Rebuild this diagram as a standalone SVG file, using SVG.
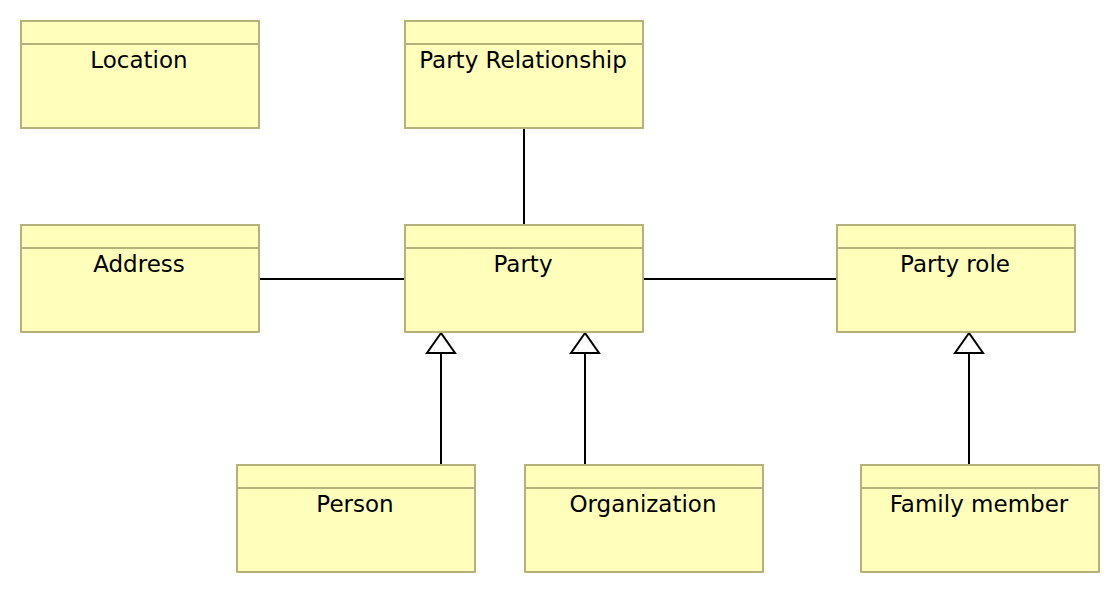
<svg xmlns="http://www.w3.org/2000/svg" width="1120" height="594" viewBox="0 0 1120 594">
<style>
.box{fill:#ffffbb;stroke:#b5b17a;stroke-width:2}
.hdr{stroke:#b5b17a;stroke-width:2}
.lbl{font-family:"DejaVu Sans",sans-serif;font-size:23px;fill:#000;text-anchor:middle}
.conn{stroke:#000;stroke-width:2;fill:none}
.tri{fill:#fff;stroke:#000;stroke-width:2}
</style>
<rect width="1120" height="594" fill="#fff"/>
<g id="connectors">
<line class="conn" x1="524" y1="128" x2="524" y2="225"/>
<line class="conn" x1="259" y1="279" x2="405" y2="279"/>
<line class="conn" x1="643" y1="279" x2="837" y2="279"/>
<line class="conn" x1="441" y1="465" x2="441" y2="353"/>
<polygon class="tri" points="441,333 427,353 455,353"/>
<line class="conn" x1="585" y1="465" x2="585" y2="353"/>
<polygon class="tri" points="585,333 571,353 599,353"/>
<line class="conn" x1="969" y1="465" x2="969" y2="353"/>
<polygon class="tri" points="969,333 955,353 983,353"/>
</g>
<g id="location"><rect class="box" x="21" y="21" width="238" height="107"/><line class="hdr" x1="21" y1="44" x2="259" y2="44"/><text class="lbl" x="139" y="68">Location</text></g>
<g id="party-relationship"><rect class="box" x="405" y="21" width="238" height="107"/><line class="hdr" x1="405" y1="44" x2="643" y2="44"/><text class="lbl" x="523" y="68">Party Relationship</text></g>
<g id="address"><rect class="box" x="21" y="225" width="238" height="107"/><line class="hdr" x1="21" y1="248" x2="259" y2="248"/><text class="lbl" x="139" y="272">Address</text></g>
<g id="party"><rect class="box" x="405" y="225" width="238" height="107"/><line class="hdr" x1="405" y1="248" x2="643" y2="248"/><text class="lbl" x="523" y="272">Party</text></g>
<g id="party-role"><rect class="box" x="837" y="225" width="238" height="107"/><line class="hdr" x1="837" y1="248" x2="1075" y2="248"/><text class="lbl" x="955" y="272">Party role</text></g>
<g id="person"><rect class="box" x="237" y="465" width="238" height="107"/><line class="hdr" x1="237" y1="488" x2="475" y2="488"/><text class="lbl" x="355" y="512">Person</text></g>
<g id="organization"><rect class="box" x="525" y="465" width="238" height="107"/><line class="hdr" x1="525" y1="488" x2="763" y2="488"/><text class="lbl" x="643" y="512">Organization</text></g>
<g id="family-member"><rect class="box" x="861" y="465" width="238" height="107"/><line class="hdr" x1="861" y1="488" x2="1099" y2="488"/><text class="lbl" x="979" y="512">Family member</text></g>
</svg>
